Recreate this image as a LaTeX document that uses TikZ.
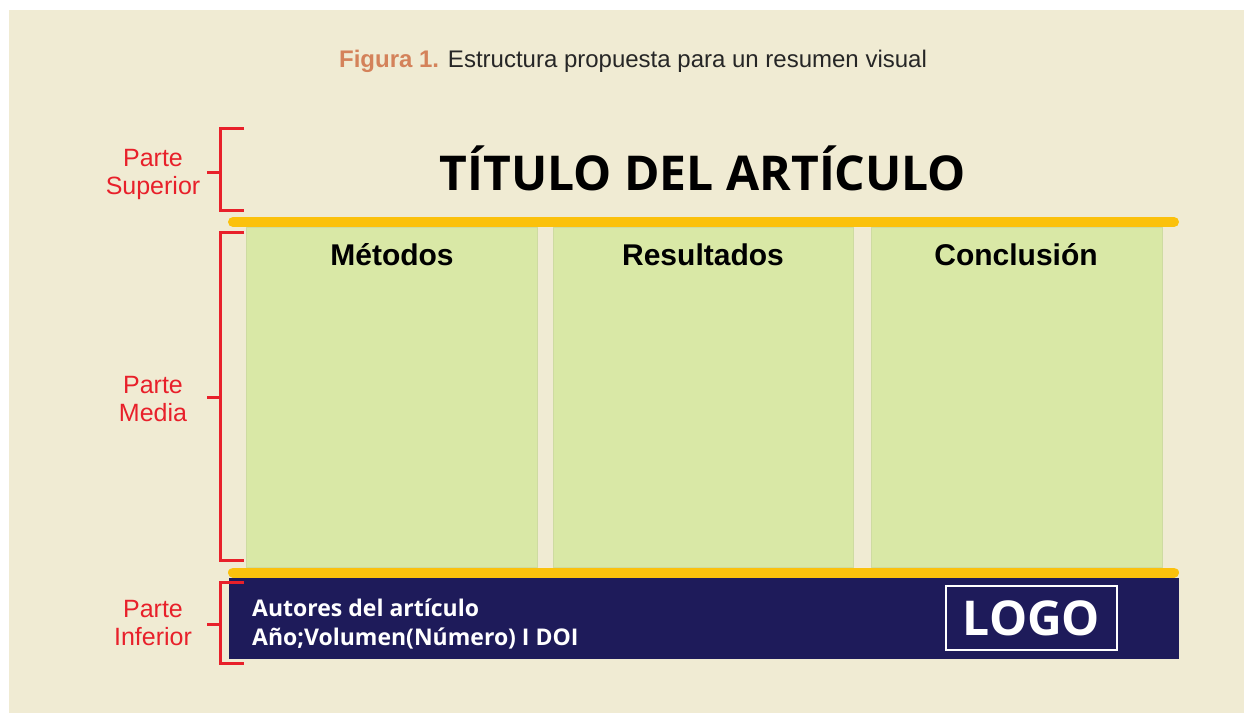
\documentclass[tikz,border=0pt]{standalone}
\usepackage{fontspec}
\setmainfont{Liberation Sans}
\newfontfamily\opensans{Open Sans}
\usetikzlibrary{positioning}

\definecolor{fondo}{RGB}{240,235,211}
\definecolor{verde}{RGB}{217,232,166}
\definecolor{amarillo}{RGB}{251,193,12}
\definecolor{marino}{RGB}{30,27,90}
\definecolor{rojo}{RGB}{232,32,42}
\definecolor{naranja}{RGB}{212,130,90}

\begin{document}
\begin{tikzpicture}[x=1pt,y=-1pt]
    \tikzset{llave/.style = {draw=rojo, line width=3pt},
      parte/.style = {text=rojo, align=center,
        font=\fontsize{25}{28}\selectfont},
      panel/.style = {fill=verde, draw=verde!88!gray, line width=0.6pt,
        minimum height=340pt, inner sep=0pt},
      cabeza/.style = {font=\fontsize{30}{34}\selectfont\bfseries},
      barra/.style = {draw=amarillo, line width=10pt, line cap=round}}
    \useasboundingbox (0,0) rectangle (1244,713);
    \fill[white] (0,0) rectangle (1244,713);
    \fill[fondo] (9,10) rectangle (1244,713);
    % encabezado
    \node[font=\fontsize{24}{28}\selectfont, text=black!85] (fig) at (633,61)
      {\textcolor{naranja}{\bfseries Figura 1.} Estructura propuesta para un resumen visual};
    \node[font=\opensans\fontsize{48}{54}\selectfont\bfseries] (tit) at (703,168)
      {TÍTULO DEL ARTÍCULO};
    % paneles
    \node[panel, minimum width=291pt] (met) at (391.5,397) {};
    \node[panel, minimum width=300pt] (res) at (703,397) {};
    \node[panel, minimum width=291pt] (con) at (1016.5,397) {};
    \node[cabeza] (tmet) at (392,255) {Métodos};
    \node[cabeza] (tres) at (703,255) {Resultados};
    \node[cabeza] (tcon) at (1016,255) {Conclusión};
    \draw[barra] (233,222) -- (1174,222);
    \draw[barra] (233,572.5) -- (1174,572.5);
    % pie
    \node[fill=marino, minimum width=950pt, minimum height=81pt, inner sep=0pt] (pie) at (704,618.5) {};
    \node[anchor=west, text=white, align=left, inner sep=0pt,
      font=\opensans\fontsize{23}{29}\selectfont\bfseries] (aut) at (252,624)
      {Autores del artículo\\Año;Volumen(Número) I DOI};
    \node[draw=white, line width=2.5pt, minimum width=171pt, minimum height=64pt,
      text=white, font=\opensans\fontsize{48}{50}\selectfont\bfseries] (logo) at (1031.5,618) {LOGO};
    % llaves
    \draw[llave] (244,128) -- (220,128) -- (220,210) -- (244,210) (220,172) -- (207,172);
    \draw[llave] (244,232) -- (220,232) -- (220,560) -- (244,560) (220,397) -- (207,397);
    \draw[llave] (244,582) -- (220,582) -- (220,663) -- (244,663) (220,624) -- (207,624);
    \node[parte] (psup) at (153,174) {Parte\\Superior};
    \node[parte] (pmed) at (153,399) {Parte\\Media};
    \node[parte] (pinf) at (153,623) {Parte\\Inferior};
\end{tikzpicture}
\end{document}
